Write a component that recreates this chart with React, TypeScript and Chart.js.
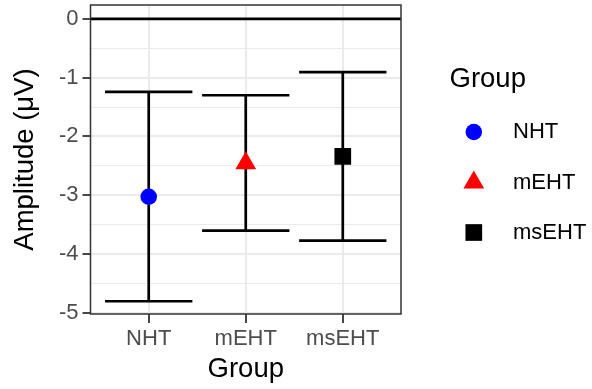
import React, { useEffect, useRef } from 'react';
import { Chart, registerables } from 'chart.js';

Chart.register(...registerables);

// ---- data ----
const GROUPS = ['NHT', 'mEHT', 'msEHT'];
const MEANS = [-3.026, -2.455, -2.34];
const UPPER = [-1.244, -1.3, -0.905];
const LOWER = [-4.803, -3.603, -3.773];
const COLORS = ['#0000FF', '#FF0000', '#000000'];
const SHAPES = ['circle', 'triangle', 'rect'];
const Y_TICKS = [-5, -4.5, -4, -3.5, -3, -2.5, -2, -1.5, -1, -0.5, 0];
const X_TICKS = [1, 2, 3];
const REF_LINE = 0;
const X_LIMITS = [0.4, 3.6];
const Y_LIMITS = [-5.02, 0.235];
const CAP_HALF = 0.45;
const X_TITLE = 'Group';
const Y_TITLE = 'Amplitude (\u03BCV)';
const LEGEND_TITLE = 'Group';

const FONT = '"Liberation Sans", Arial, Helvetica, sans-serif';
const POINT_RADIUS = [8.3, 12, 11.8];
const LINE_W = 2.7;

const isMajor = (v: number) => Math.abs(v - Math.round(v)) < 1e-6;

function drawShape(ctx: CanvasRenderingContext2D, shape: string, x: number, y: number, r: number, color: string) {
  ctx.save();
  ctx.fillStyle = color;
  ctx.beginPath();
  if (shape === 'circle') {
    ctx.arc(x, y, r, 0, Math.PI * 2);
  } else if (shape === 'triangle') {
    for (let k = 0; k < 3; k++) {
      const a = (k * 2 * Math.PI) / 3;
      const px = x + Math.sin(a) * r;
      const py = y - Math.cos(a) * r;
      if (k === 0) ctx.moveTo(px, py);
      else ctx.lineTo(px, py);
    }
    ctx.closePath();
  } else {
    const s = r * Math.SQRT1_2;
    ctx.rect(x - s, y - s, 2 * s, 2 * s);
  }
  ctx.fill();
  ctx.restore();
}

const panelAndLegend = {
  id: 'panelAndLegend',
  afterDatasetsDraw(chart: any) {
    const { ctx, chartArea } = chart;
    ctx.save();
    ctx.strokeStyle = '#333333';
    ctx.lineWidth = 1.5;
    ctx.strokeRect(chartArea.left, chartArea.top, chartArea.right - chartArea.left, chartArea.bottom - chartArea.top);
    ctx.restore();
  },
  afterDraw(chart: any) {
    const { ctx } = chart;
    ctx.save();
    ctx.fillStyle = '#000000';
    ctx.font = `27.5px ${FONT}`;
    ctx.textBaseline = 'alphabetic';
    ctx.textAlign = 'left';
    ctx.fillText(LEGEND_TITLE, 449.5, 87);
    const rows = [132, 182.5, 232.5];
    const keyX = 473.8;
    GROUPS.forEach((g, i) => {
      drawShape(ctx, SHAPES[i], keyX, rows[i], POINT_RADIUS[i], COLORS[i]);
      ctx.fillStyle = '#000000';
      ctx.font = `22px ${FONT}`;
      ctx.textBaseline = 'middle';
      ctx.fillText(g, 513, rows[i]);
    });
    ctx.restore();
  },
};

export default function App() {
  const ref = useRef<HTMLCanvasElement | null>(null);

  useEffect(() => {
    document.body.style.margin = '0';
    if (!ref.current) return;

    const errorSets: any[] = [];
    GROUPS.forEach((_, i) => {
      const x = X_TICKS[i];
      const base = {
        type: 'scatter',
        showLine: true,
        borderColor: '#000000',
        borderWidth: LINE_W,
        pointRadius: 0,
        pointHoverRadius: 0,
        order: 2,
      };
      errorSets.push({ ...base, data: [{ x, y: LOWER[i] }, { x, y: UPPER[i] }] });
      errorSets.push({ ...base, data: [{ x: x - CAP_HALF, y: UPPER[i] }, { x: x + CAP_HALF, y: UPPER[i] }] });
      errorSets.push({ ...base, data: [{ x: x - CAP_HALF, y: LOWER[i] }, { x: x + CAP_HALF, y: LOWER[i] }] });
    });

    const pointSets = GROUPS.map((g, i) => ({
      type: 'scatter',
      label: g,
      data: [{ x: X_TICKS[i], y: MEANS[i] }],
      pointStyle: SHAPES[i],
      pointRadius: POINT_RADIUS[i],
      pointHoverRadius: POINT_RADIUS[i],
      backgroundColor: COLORS[i],
      borderColor: COLORS[i],
      borderWidth: 0,
      order: 0,
    }));

    const refSet = {
      type: 'scatter',
      showLine: true,
      data: [{ x: X_LIMITS[0], y: REF_LINE }, { x: X_LIMITS[1], y: REF_LINE }],
      borderColor: '#000000',
      borderWidth: LINE_W,
      pointRadius: 0,
      pointHoverRadius: 0,
      order: 3,
    };

    const chart = new Chart(ref.current, {
      type: 'scatter',
      data: { datasets: [...pointSets, ...errorSets, refSet] as any },
      options: {
        responsive: false,
        animation: false,
        events: [],
        layout: { autoPadding: false, padding: { top: 5, right: 191, left: 0, bottom: 0 } },
        plugins: { legend: { display: false }, tooltip: { enabled: false } },
        scales: {
          x: {
            type: 'linear',
            min: X_LIMITS[0],
            max: X_LIMITS[1],
            afterFit: (s: any) => { s.height = 75; s.paddingLeft = 0; s.paddingRight = 0; s.paddingTop = 0; s.paddingBottom = 0; },
            afterBuildTicks: (s: any) => { s.ticks = X_TICKS.map((v) => ({ value: v })); },
            border: { display: false },
            grid: {
              color: '#EBEBEB',
              lineWidth: 2,
              tickColor: '#333333',
              tickLength: 9,
              tickWidth: 1.8,
            },
            ticks: {
              autoSkip: false,
              maxRotation: 0,
              padding: 2.3,
              color: '#4D4D4D',
              font: { family: FONT, size: 22 },
              callback: (v: any) => GROUPS[Math.round(Number(v)) - 1] ?? '',
            },
            title: {
              display: true,
              text: X_TITLE,
              color: '#000000',
              font: { family: FONT, size: 27.5 },
              padding: { top: 0, bottom: 3 },
            },
          },
          y: {
            type: 'linear',
            min: Y_LIMITS[0],
            max: Y_LIMITS[1],
            afterFit: (s: any) => { s.width = 90.5; s.paddingTop = 0; s.paddingBottom = 0; s.paddingLeft = 0; s.paddingRight = 0; },
            afterBuildTicks: (s: any) => { s.ticks = Y_TICKS.map((v) => ({ value: v })); },
            border: { display: false },
            grid: {
              color: '#EBEBEB',
              lineWidth: (c: any) => (isMajor(c.tick?.value ?? 0) ? 2 : 1),
              tickColor: (c: any) => (isMajor(c.tick?.value ?? 0) ? '#333333' : 'rgba(0,0,0,0)'),
              tickLength: 8,
              tickWidth: 1.8,
            },
            ticks: {
              autoSkip: false,
              padding: 4,
              color: '#4D4D4D',
              font: { family: FONT, size: 22 },
              callback: (v: any) => (isMajor(Number(v)) ? String(Math.round(Number(v))) : ''),
            },
            title: {
              display: true,
              text: Y_TITLE,
              color: '#000000',
              font: { family: FONT, size: 27.5 },
              padding: { top: 8.5, bottom: 0 },
            },
          },
        },
      },
      plugins: [panelAndLegend],
    } as any);

    return () => chart.destroy();
  }, []);

  return (
    <div style={{ width: 592, height: 389 }}>
      <canvas ref={ref} width={592} height={389} style={{ display: 'block' }} />
    </div>
  );
}
